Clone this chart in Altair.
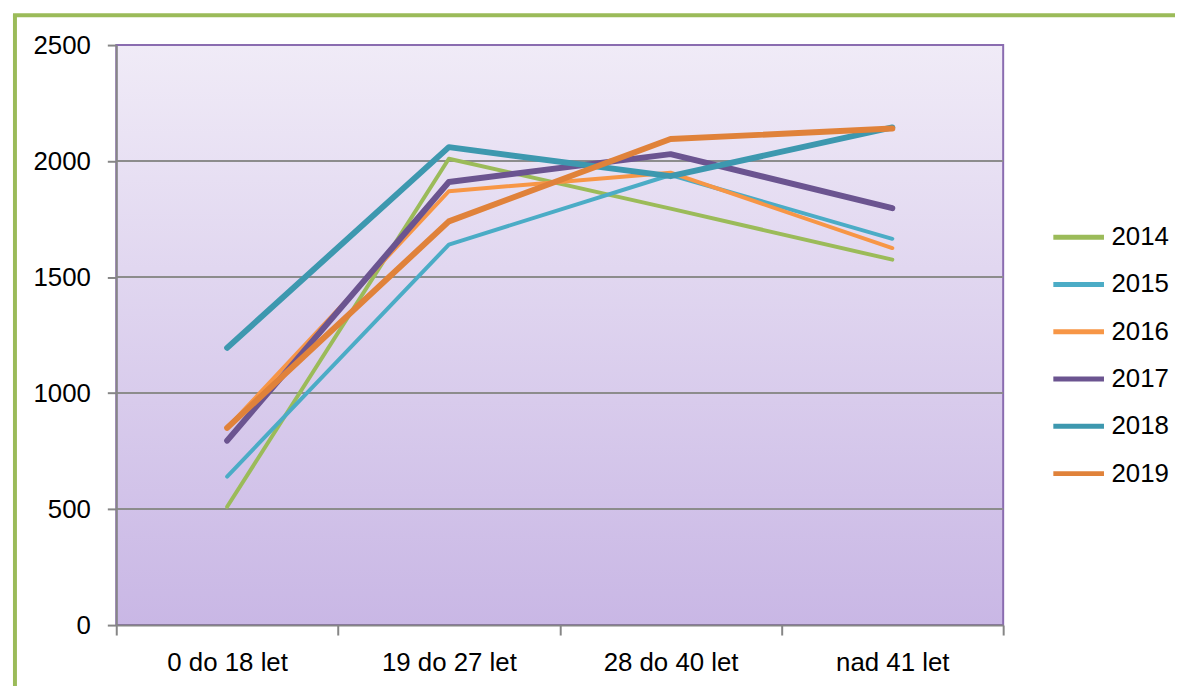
import altair as alt
import pandas as pd

categories = ["0 do 18 let", "19 do 27 let", "28 do 40 let", "nad 41 let"]
years = ["2014", "2015", "2016", "2017", "2018", "2019"]
v2014 = [510, 2010, 1795, 1575]
v2015 = [640, 1640, 1940, 1665]
v2016 = [850, 1870, 1950, 1625]
v2017 = [795, 1910, 2030, 1797]
v2018 = [1195, 2060, 1935, 2145]
v2019 = [850, 1740, 2095, 2140]
series = [v2014, v2015, v2016, v2017, v2018, v2019]
colors = ["#9BBB59", "#4BACC6", "#F79646", "#6B5490", "#3D98AF", "#E0823A"]
thin_years = ["2014", "2015", "2016"]
grid_vals = [500, 1000, 1500, 2000]

rows = []
for y, vals in zip(years, series):
    for c, v in zip(categories, vals):
        rows.append({"year": y, "cat": c, "value": v})
df = pd.DataFrame(rows)

W, H = 893, 584
FONT = "Liberation Sans"
FS = 26

bg = alt.Chart(alt.Data(values=[{}])).mark_rect(
    fill=alt.Gradient(gradient="linear", x1=0, x2=0, y1=0, y2=1,
                      stops=[alt.GradientStop(color="#F0EBF7", offset=0),
                             alt.GradientStop(color="#C9B7E5", offset=1)]),
    stroke="#8A6CB0", strokeWidth=2
).encode(x=alt.value(0), x2=alt.value(W), y=alt.value(0), y2=alt.value(H))

grid = alt.Chart(pd.DataFrame({"g": grid_vals})).mark_rule(
    color="#8C8C8C", strokeWidth=2
).encode(y=alt.Y("g:Q", scale=alt.Scale(domain=[0, 2500])), x=alt.value(0), x2=alt.value(W))

x_enc = alt.X("cat:N", sort=categories, bandPosition=0.5,
              scale=alt.Scale(type="band", paddingInner=0, paddingOuter=0),
              axis=alt.Axis(title=None, labelAngle=0, tickBand="extent", domainColor="#868686",
                            domainWidth=2, tickColor="#868686", tickWidth=2, tickSize=10,
                            labelPadding=15, labelFontSize=FS, labelFont=FONT, labelColor="#000000",
                            zindex=1))
y_enc = alt.Y("value:Q", scale=alt.Scale(domain=[0, 2500]),
              axis=alt.Axis(title=None, values=[0, 500, 1000, 1500, 2000, 2500], grid=False,
                            format="d",
                            domainColor="#868686", domainWidth=2, tickColor="#868686",
                            tickWidth=2, tickSize=9, labelPadding=17, labelFontSize=FS,
                            labelFont=FONT, labelColor="#000000", zindex=1))
color_enc = alt.Color("year:N", scale=alt.Scale(domain=years, range=colors),
                      legend=alt.Legend(title=None, orient="none", legendX=941, legendY=181,
                                        symbolType="stroke", symbolSize=2601,
                                        symbolStrokeWidth=5,
                                        labelFontSize=FS, labelFont=FONT, labelColor="#000000",
                                        clipHeight=25, rowPadding=20.6, labelOffset=5))

thin = alt.Chart(df).transform_filter(
    alt.FieldOneOfPredicate(field="year", oneOf=thin_years)
).mark_line(strokeCap="round", strokeJoin="round", strokeWidth=4).encode(
    x=x_enc, y=y_enc, color=color_enc)

thick = alt.Chart(df).transform_filter(
    ~alt.FieldOneOfPredicate(field="year", oneOf=thin_years)
).mark_line(strokeCap="round", strokeJoin="round", strokeWidth=6).encode(
    x=x_enc, y=y_enc, color=color_enc)

frame_left = alt.Chart(alt.Data(values=[{}])).mark_rule(color="#9BBB59", strokeWidth=4, clip=False).encode(
    x=alt.value(-102), y=alt.value(-31), y2=alt.value(H + 80))
frame_top = alt.Chart(alt.Data(values=[{}])).mark_rule(color="#9BBB59", strokeWidth=4, clip=False).encode(
    x=alt.value(-104), x2=alt.value(W + 200), y=alt.value(-30))

chart = alt.layer(bg, grid, thin, thick, frame_left, frame_top).properties(
    width=W, height=H,
    autosize=alt.AutoSizeParams(type="none"),
    padding={"left": 109, "top": 35, "right": 173, "bottom": 59},
    background="#FFFFFF",
).configure_view(stroke=None)

chart.save("out.html", embed_options={"renderer": "svg", "actions": False})
